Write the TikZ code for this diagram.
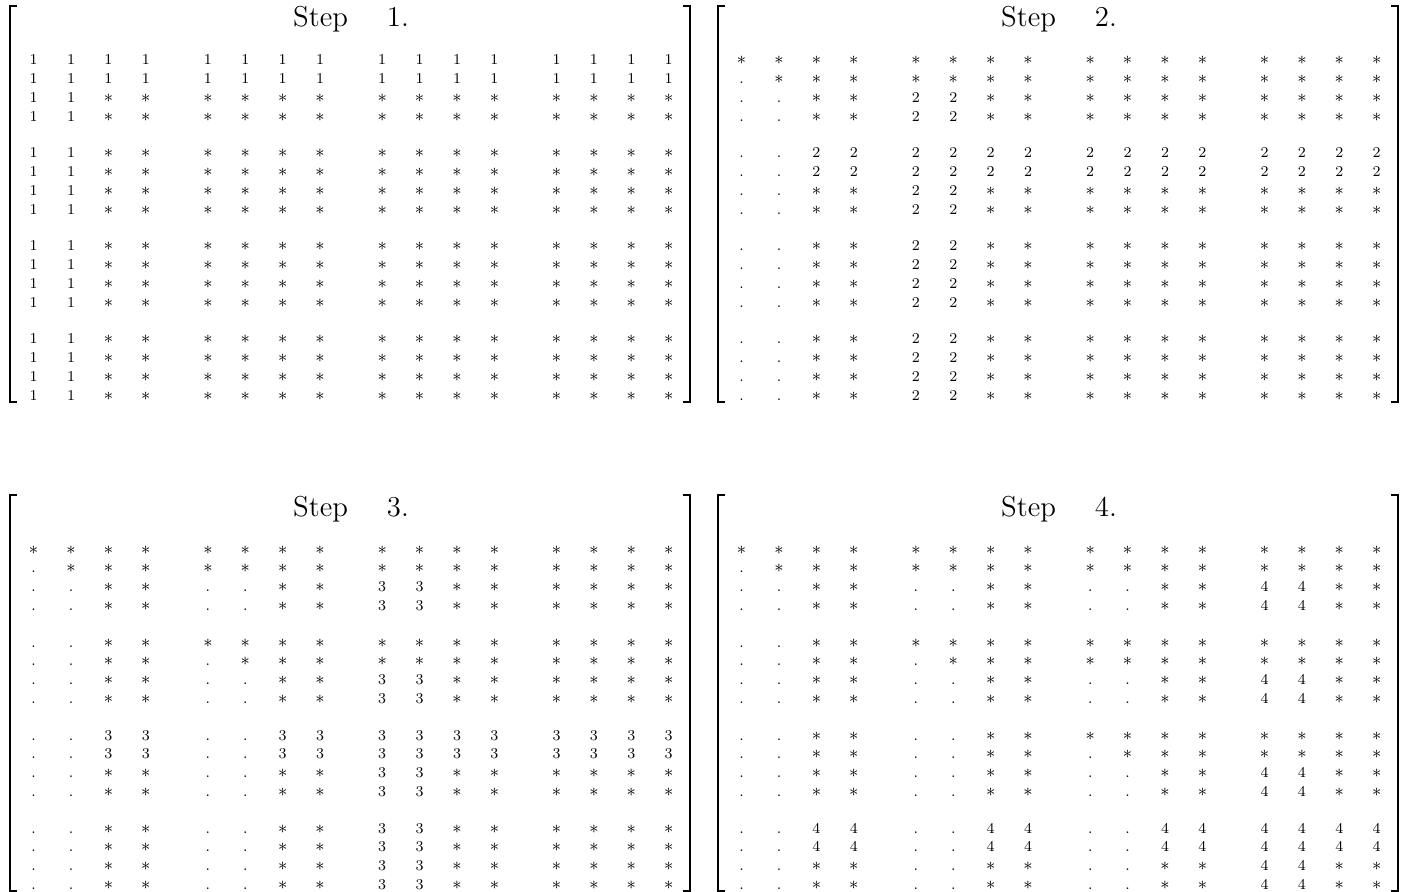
\documentclass[tikz,border=0pt]{standalone}
\usepackage{tikz}
\usepackage{amsmath}

\tikzset{
    entry/.style={anchor=base, inner sep=0pt, font=\fontsize{7.5}{9}\selectfont},
    steptitle/.style={anchor=base, inner sep=0pt, font=\fontsize{14.4}{17}\selectfont},
    bracket/.style={line width=0.55pt},
    bracketend/.style={line width=1.1pt},
}

\begin{document}
\begin{tikzpicture}[x=0.5pt, y=-0.5pt]
    \useasboundingbox (0,0) rectangle (1411,892);

    \foreach \k/\dx/\dy in {1/0/0, 2/708/0, 3/0/489, 4/708/489}{
        % Title
        \node[steptitle] (t\k) at (351+\dx, 27+\dy) {Step\hspace{1.35em}\k.};

        % Brackets
        \draw[bracket] (17+\dx, 6+\dy) -- (10+\dx, 6+\dy) -- (10+\dx, 402+\dy) -- (17+\dx, 402+\dy);
        \draw[bracket] (683+\dx, 6+\dy) -- (690+\dx, 6+\dy) -- (690+\dx, 402+\dy) -- (683+\dx, 402+\dy);
        \draw[bracketend] (10+\dx, 6+\dy) -- (10+\dx, 53+\dy) (10+\dx, 355+\dy) -- (10+\dx, 402+\dy);
        \draw[bracketend] (690+\dx, 6+\dy) -- (690+\dx, 53+\dy) (690+\dx, 355+\dy) -- (690+\dx, 402+\dy);

        % Entries: 0 = eliminated, 1 = untouched, 2 = updated in this step
        \foreach \r in {1,...,16}{
            \foreach \c in {1,...,16}{
                \pgfmathtruncatemacro\rp{mod(\r-1,4)<2 ? div(\r-1,4)+1 : 0}
                \pgfmathtruncatemacro\cp{mod(\c-1,4)<2 ? div(\c-1,4)+1 : 0}
                \pgfmathtruncatemacro\cell{(\cp>0 && \cp<\k) ? ((\rp>0 && (\rp<\cp || (\rp==\cp && \r<=\c))) ? 1 : 0) : (((\rp==\k || \cp==\k) && !(\rp>0 && \rp<\k)) ? 2 : 1)}
                \pgfmathsetmacro\ex{33.6 + div(\c-1,4)*174.3 + mod(\c-1,4)*37.4 + \dx}
                \pgfmathsetmacro\ey{65 + div(\r-1,4)*93 + mod(\r-1,4)*18.7 + \dy}
                \ifcase\cell \def\txt{.}\or \def\txt{\fontsize{9}{9}\selectfont$\ast$}\or \def\txt{\k}\fi
                \node[entry] (s\k-\r-\c) at (\ex, \ey) {\txt};
            }
        }
    }
\end{tikzpicture}
\end{document}
